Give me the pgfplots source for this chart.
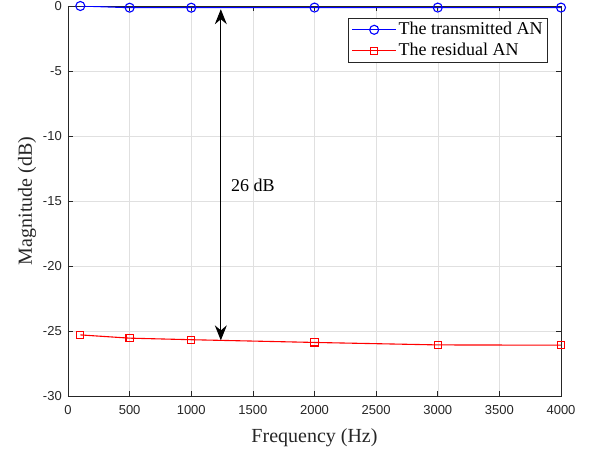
\documentclass[border=0pt]{standalone}
\usepackage{fontspec}
\setmainfont{Liberation Serif}
\setsansfont{Liberation Sans}
\usepackage{pgfplots}
\pgfplotsset{compat=1.18}
\usetikzlibrary{arrows.meta}
\definecolor{axgray}{gray}{0.15}
\definecolor{gridgray}{gray}{0.88}
\begin{document}
\begin{tikzpicture}
\path[use as bounding box] (-68pt,-54pt) rectangle (525pt,396pt);
\begin{axis}[name=ax, at={(0,0)}, anchor=south west,
  scale only axis, width=493pt, height=390pt,
  xmin=0, xmax=4000, ymin=-30, ymax=0,
  xtick={0,500,...,4000}, ytick={-30,-25,...,0},
  grid=major, major grid style={gridgray, line width=0.5pt},
  axis line style={axgray, line width=0.6pt},
  tick style={axgray, line width=0.6pt}, tick align=inside, major tick length=5pt,
  ticklabel style={font=\sffamily\fontsize{13}{15}\selectfont, text=axgray},
  /pgf/number format/assume math mode=true,
  scaled x ticks=false, xticklabel style={/pgf/number format/1000 sep={}, yshift=-6pt},
  yticklabel style={xshift=-2.7pt},
  xlabel={Frequency (Hz)}, ylabel={Magnitude (dB)},
  label style={font=\fontsize{20}{24}\selectfont, text=axgray},
  xlabel style={at={(axis description cs:0.5,0)}, anchor=base, yshift=-46pt},
  ylabel style={at={(axis description cs:0,0.5)}, anchor=base, rotate=0, yshift=36pt},
  legend style={at={(rel axis cs:1,1)}, anchor=north east, xshift=-13pt, yshift=-12pt,
    font=\fontsize{18}{20}\selectfont, draw=axgray, line width=0.6pt,
    inner xsep=3pt, inner ysep=1pt,
    nodes={inner sep=2pt, text height=13pt, text depth=4pt}},
  legend cell align=left,
  legend image code/.code={\draw[mark repeat=2,mark phase=2,#1] plot coordinates {(0pt,0pt) (22pt,0pt) (44pt,0pt)};},
]
\addplot[blue, line width=1.1pt, mark=o, mark size=4.5pt, mark options={solid, line width=1.1pt}]
  coordinates {(100,0) (500,-0.13) (1000,-0.13) (2000,-0.12) (3000,-0.12) (4000,-0.12)};
\addlegendentry{The transmitted AN}
\addplot[red, line width=1.1pt, mark=square, mark size=3.6pt, mark options={solid, line width=1.1pt}]
  coordinates {(100,-25.3) (500,-25.55) (1000,-25.67) (2000,-25.88) (3000,-26.07) (4000,-26.09)};
\addlegendentry{The residual AN}
\draw[black, line width=0.9pt, {Stealth[length=15pt, width=12pt, inset=5pt]}-{Stealth[length=15pt, width=12pt, inset=5pt]}]
  (axis cs:1240,-0.25) -- (axis cs:1240,-25.72);
\node[font=\fontsize{18}{20}\selectfont, black] at (axis cs:1500,-13.77) {26 dB};
\end{axis}
\end{tikzpicture}
\end{document}
